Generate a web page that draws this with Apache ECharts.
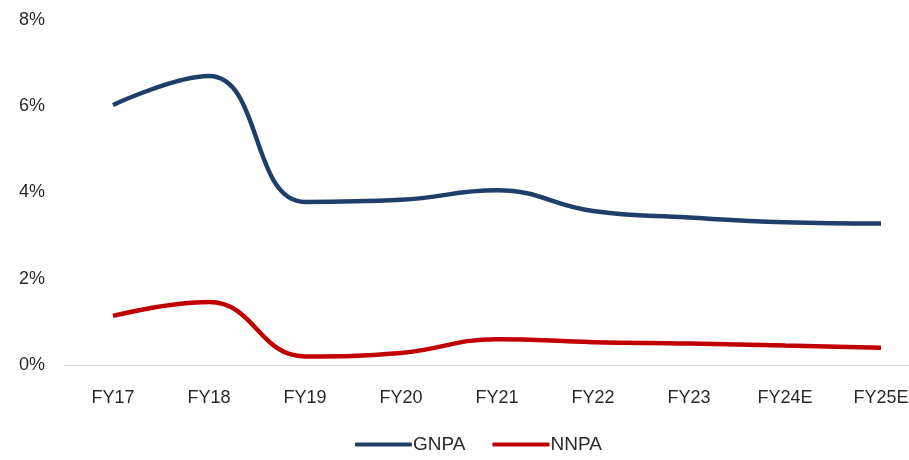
<!DOCTYPE html>
<html>
<head>
<meta charset="utf-8">
<script src="https://cdn.jsdelivr.net/npm/echarts@6/dist/echarts.min.js"></script>
<style>html,body{margin:0;padding:0;background:#fff;overflow:hidden}#chart{width:929px;height:460px}</style>
</head>
<body>
<div id="chart"></div>
<script>
// 年度
const categories = ['FY17', 'FY18', 'FY19', 'FY20', 'FY21', 'FY22', 'FY23', 'FY24E', 'FY25E'];
const gnpa = [6.03, 6.7, 3.78, 3.83, 4.05, 3.57, 3.42, 3.31, 3.28];
const nnpa = [1.14, 1.46, 0.2, 0.28, 0.6, 0.53, 0.5, 0.45, 0.4];

const myChart = echarts.init(document.getElementById('chart'));
const option = {
  animation: false,
  color: ['#1f3f6b', '#c00000'],
  textStyle: { fontFamily: 'Liberation Sans, Arial, sans-serif' },
  // 右侧 FY25E 被画面裁掉，画布比窗口宽
  grid: { left: 65, right: 0, top: 20, bottom: 95 },
  legend: {
    bottom: 1,
    left: 350,
    itemWidth: 57,
    itemHeight: 4,
    itemGap: 27,
    icon: 'roundRect',
    textStyle: { fontSize: 19, color: '#2a2a2a', padding: [0, 0, 0, -4] },
    data: ['GNPA', 'NNPA']
  },
  xAxis: {
    type: 'category',
    data: categories,
    axisLine: { lineStyle: { color: '#d0d4dc', width: 1 } },
    axisTick: { show: false },
    axisLabel: { fontSize: 18, color: '#2a2a2a', margin: 24 }
  },
  yAxis: {
    type: 'value',
    min: 0,
    max: 8,
    interval: 2,
    splitLine: { show: false },
    axisLine: { show: false },
    axisLabel: { fontSize: 18, color: '#2a2a2a', margin: 20, formatter: '{value}%' }
  },
  series: [
    { name: 'GNPA', type: 'line', smooth: 0.45, data: gnpa, symbol: 'none', lineStyle: { width: 4.5 } },
    { name: 'NNPA', type: 'line', smooth: 0.45, data: nnpa, symbol: 'none', lineStyle: { width: 4.5 } }
  ]
};
myChart.setOption(option, true);
</script>
</body>
</html>
